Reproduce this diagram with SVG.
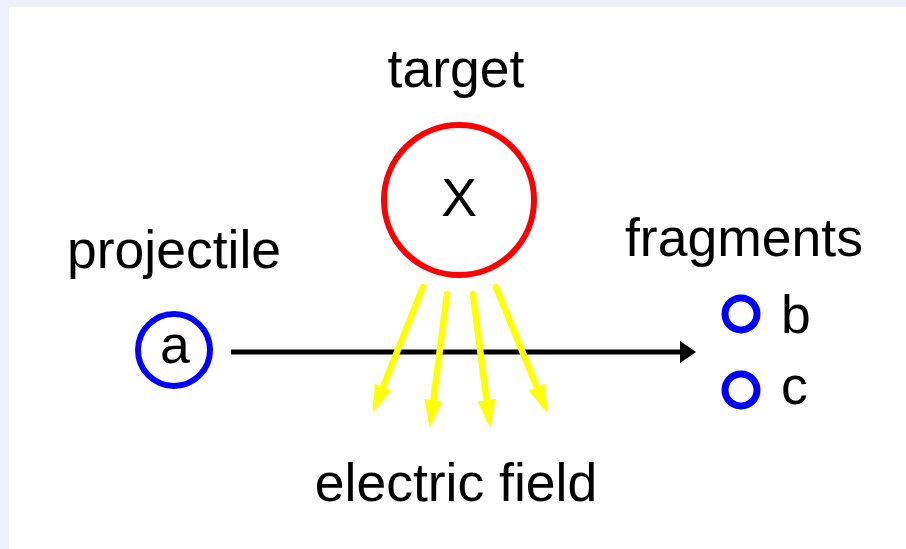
<svg xmlns="http://www.w3.org/2000/svg" width="906" height="549" viewBox="0 0 906 549">
<style>
text{font-family:"Liberation Sans",Arial,sans-serif;font-size:53.5px;fill:#000}
.blue{fill:none;stroke:#0000ff}
.field{stroke:#ffff00;stroke-width:6.5;stroke-linecap:round;fill:none}
</style>
<defs>
<marker id="yh" markerUnits="userSpaceOnUse" markerWidth="28" markerHeight="18" refX="19" refY="9" orient="auto" viewBox="0 0 28 18">
<path d="M0,0 L28,9 L0,18 z" fill="#ffff00"/>
</marker>
<marker id="bh" markerUnits="userSpaceOnUse" markerWidth="16" markerHeight="22" refX="1" refY="11" orient="auto" viewBox="0 0 16 22">
<path d="M0,0 L16,11 L0,22 z" fill="#000"/>
</marker>
</defs>
<rect x="0" y="0" width="906" height="549" fill="#f0f0fd"/>
<rect x="9" y="7" width="897" height="542" fill="#ffffff"/>
<g id="connectors">
<line x1="231" y1="352" x2="681" y2="352" stroke="#000" stroke-width="5" marker-end="url(#bh)"/>
<line class="field" x1="423" y1="287" x2="376" y2="404.6" marker-end="url(#yh)"/>
<line class="field" x1="447" y1="294" x2="431" y2="419.1" marker-end="url(#yh)"/>
<line class="field" x1="473" y1="294" x2="489" y2="419.1" marker-end="url(#yh)"/>
<line class="field" x1="496" y1="287" x2="544" y2="404.6" marker-end="url(#yh)"/>
</g>
<g id="target">
<circle cx="459" cy="200" r="75" fill="none" stroke="#ff0000" stroke-width="6"/>
<text x="459" y="216" text-anchor="middle">X</text>
<text x="456" y="87" text-anchor="middle">target</text>
</g>
<g id="projectile">
<circle cx="174" cy="350" r="36" class="blue" stroke-width="6"/>
<text x="175" y="363" text-anchor="middle">a</text>
<text x="67" y="268">projectile</text>
</g>
<g id="fragments">
<text x="625" y="256">fragments</text>
</g>
<g id="fragment-b">
<circle cx="741" cy="314" r="16" class="blue" stroke-width="7"/>
<text x="781" y="333">b</text>
</g>
<g id="fragment-c">
<circle cx="741" cy="390" r="16" class="blue" stroke-width="7"/>
<text x="781" y="404">c</text>
</g>
<g id="field-label">
<text x="456" y="501" text-anchor="middle">electric field</text>
</g>
</svg>
